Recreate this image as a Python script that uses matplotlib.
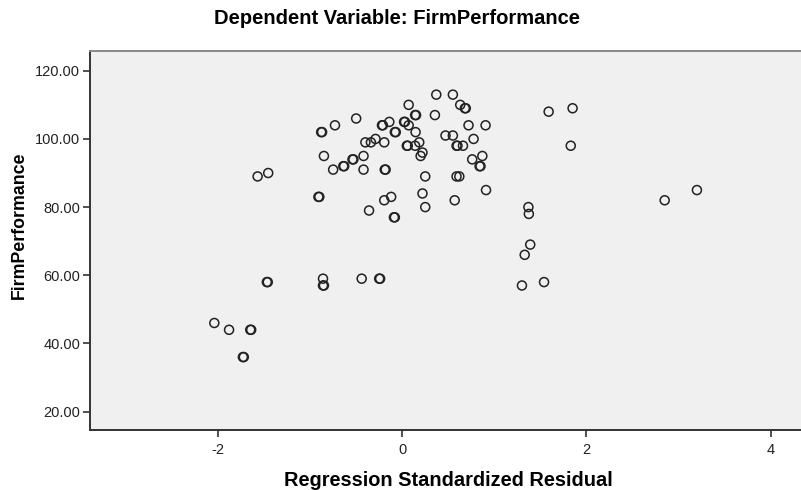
import matplotlib.pyplot as plt

plt.rcParams['font.family'] = ['Liberation Sans', 'DejaVu Sans']

# standardized residuals (x) and FirmPerformance (y)
residual = [
    -2.04, -1.88, -1.65, -1.64, -1.73, -1.72, -1.47, -1.46,
    -1.57, -1.455,
    -0.88, -0.87, -0.73, -0.50, -0.85, -0.75, -0.64, -0.63,
    -0.54, -0.53, -0.42, -0.42, -0.40, -0.34, -0.29, -0.195,
    -0.22, -0.21, -0.14, -0.08, -0.07, -0.19, -0.18,
    -0.91, -0.90, -0.36, -0.195, -0.12, -0.09, -0.08,
    -0.86, -0.86, -0.85, -0.44, -0.25, -0.24,
    0.07, 0.14, 0.15, 0.02, 0.03, 0.07, 0.145, 0.185,
    0.05, 0.06, 0.14, 0.22, 0.20,
    0.37, 0.55, 0.63, 0.68, 0.69, 0.355, 0.72, 0.905,
    0.47, 0.55, 0.775, 0.59, 0.60, 0.66, 0.76, 0.87, 0.84, 0.85,
    0.25, 0.59, 0.62, 0.91, 0.22, 0.57, 0.25,
    1.59, 1.85, 1.83, 2.85, 3.20,
    1.37, 1.375, 1.39, 1.33, 1.30, 1.54,
]
performance = [
    46, 44, 44, 44, 36, 36, 58, 58,
    89, 90,
    102, 102, 104, 106, 95, 91, 92, 92,
    94, 94, 95, 91, 99, 99, 100, 99,
    104, 104, 105, 102, 102, 91, 91,
    83, 83, 79, 82, 83, 77, 77,
    59, 57, 57, 59, 59, 59,
    110, 107, 107, 105, 105, 104, 102, 99,
    98, 98, 98, 96, 95,
    113, 113, 110, 109, 109, 107, 104, 104,
    101, 101, 100, 98, 98, 98, 94, 95, 92, 92,
    89, 89, 89, 85, 84, 82, 80,
    108, 109, 98, 82, 85,
    80, 78, 69, 66, 57, 58,
]

x_ticks = [-2, 0, 2, 4]
y_ticks = [20, 40, 60, 80, 100, 120]

fig = plt.figure(figsize=(8.01, 4.90), dpi=100)
ax = fig.add_axes([90 / 801, 1 - 430 / 490, 1 - 90 / 801, (430 - 51) / 490])
ax.set_facecolor('#f0f0f0')

ax.scatter(residual, performance, s=42, facecolors='none',
           edgecolors='#222222', linewidths=1.1, zorder=3)

ax.set_xlim(-3.39, 4.33)
ax.set_ylim(14.6, 125.8)
ax.set_xticks(x_ticks)
ax.set_xticklabels([str(t) for t in x_ticks])
ax.set_yticks(y_ticks)
ax.set_yticklabels(['%.2f' % t for t in y_ticks])

ax.tick_params(axis='both', direction='out', length=5, width=1.2,
               color='#333333', labelsize=10.5, labelcolor='#222222', pad=2)
ax.tick_params(axis='x', pad=4)

for side in ['left', 'bottom']:
    ax.spines[side].set_color('#333333')
    ax.spines[side].set_linewidth(1.4)
ax.spines['top'].set_color('#888888')
ax.spines['top'].set_linewidth(1.4)
ax.spines['right'].set_visible(False)

fig.text(448 / 801, 1 - 480 / 490, 'Regression Standardized Residual',
         ha='center', va='center', fontsize=14.4, fontweight='bold')
fig.text(19 / 801, 1 - 225 / 490, 'FirmPerformance', rotation=90,
         ha='center', va='center', fontsize=12.8, fontweight='bold')
fig.text(397 / 801, 1 - 18 / 490, 'Dependent Variable: FirmPerformance',
         ha='center', va='center', fontsize=14.5, fontweight='bold')

fig.savefig('out.png', dpi=100)
